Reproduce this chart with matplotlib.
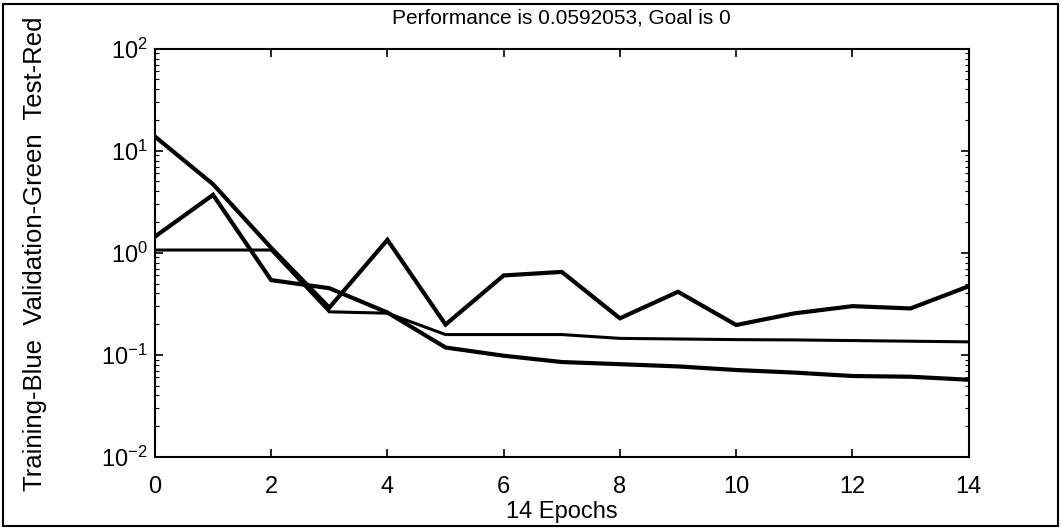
import matplotlib.pyplot as plt
from matplotlib.patches import Rectangle
import numpy as np

plt.rcParams['font.family'] = ['Liberation Sans', 'DejaVu Sans']
plt.rcParams['mathtext.default'] = 'regular'

# values
epochs = list(range(15))
train = [1.44, 3.7, 0.54, 0.45, 0.26, 0.118, 0.098, 0.085, 0.081, 0.077,
         0.071, 0.067, 0.062, 0.061, 0.057]
valid = [1.065, 1.065, 1.065, 0.264, 0.256, 0.158, 0.158, 0.158, 0.145, 0.143,
         0.141, 0.140, 0.138, 0.136, 0.134]
test = [13.8, 4.7, 1.12, 0.29, 1.34, 0.198, 0.6, 0.65, 0.228, 0.415,
        0.196, 0.255, 0.30, 0.285, 0.47]

title = "Performance is 0.0592053, Goal is 0"
ylabel = "Training-Blue  Validation-Green  Test-Red"
xlabel = "14 Epochs"

fig = plt.figure(figsize=(10.61, 5.30), dpi=100)
ax = fig.add_axes([0.146, 0.138, 0.767, 0.770])

ax.semilogy(epochs, train, color='black', lw=3.0, solid_joinstyle='miter')
ax.semilogy(epochs, valid, color='black', lw=2.2, solid_joinstyle='miter')
ax.semilogy(epochs, test, color='black', lw=3.0, solid_joinstyle='miter')

ax.set_xlim(0, 14)
ax.set_ylim(1e-2, 1e2)
ax.set_xticks(np.arange(0, 15, 2))
ax.set_yticks([1e-2, 1e-1, 1e0, 1e1, 1e2])
ax.tick_params(which='both', direction='in', top=True, right=True)
ax.tick_params(which='major', length=6, width=1.2, labelsize=17, pad=5)
ax.tick_params(axis='x', which='major', pad=14)
ax.tick_params(which='minor', length=3, width=0.8)
for s in ax.spines.values():
    s.set_linewidth(1.5)

fig.text(0.529, 0.966, title, fontsize=15, ha='center', va='center')
ax.set_ylabel(ylabel, fontsize=18.5, va='center')
ax.yaxis.set_label_coords(-0.147, 0.497)
ax.set_xlabel(xlabel, fontsize=17, va='center')
ax.xaxis.set_label_coords(0.5, -0.136)

# frame around the whole figure
fig.patches.append(Rectangle((0.003, 0.008), 0.994, 0.985, transform=fig.transFigure,
                             fill=False, edgecolor='black', lw=1.5))

fig.savefig('out.png', dpi=100)
